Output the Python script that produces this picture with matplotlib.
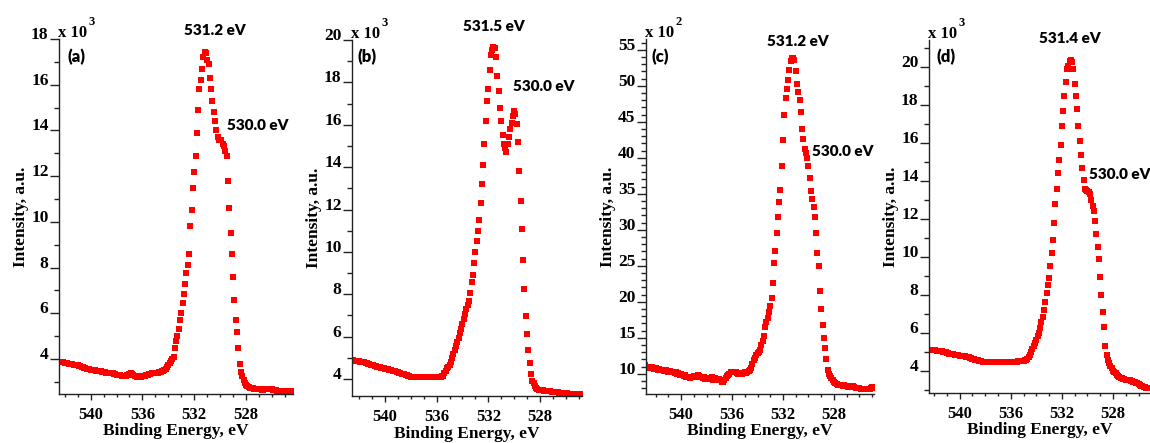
import numpy as np
import matplotlib.pyplot as plt
from matplotlib.ticker import MultipleLocator

plt.rcParams['font.family'] = 'Liberation Serif'
plt.rcParams['font.weight'] = 'bold'

# O 1s spectra, one point every 0.1 eV starting at the given binding energy
STEP = 0.1

start_a = 542.4
intensity_a = [  # x 10^3 counts
    3.88, 3.87, 3.86, 3.85, 3.84, 3.83, 3.81, 3.80, 3.79, 3.78,
    3.77, 3.76, 3.75, 3.74, 3.72, 3.70, 3.68, 3.66, 3.64, 3.62,
    3.60, 3.58, 3.56, 3.55, 3.54, 3.52, 3.51, 3.50, 3.49, 3.48,
    3.48, 3.47, 3.46, 3.45, 3.44, 3.42, 3.41, 3.40, 3.39, 3.38,
    3.38, 3.37, 3.35, 3.33, 3.31, 3.30, 3.29, 3.28, 3.27, 3.27,
    3.26, 3.26, 3.28, 3.32, 3.36, 3.38, 3.35, 3.30, 3.26, 3.24,
    3.23, 3.23, 3.22, 3.23, 3.24, 3.25, 3.27, 3.29, 3.31, 3.33,
    3.35, 3.37, 3.38, 3.38, 3.37, 3.38, 3.40, 3.42, 3.45, 3.47,
    3.49, 3.52, 3.58, 3.65, 3.72, 3.82, 3.92, 4.00, 4.10, 4.50,
    4.80, 5.00, 5.30, 5.70, 6.00, 6.45, 6.85, 7.30, 7.75, 8.10,
    8.60, 9.80, 10.5, 11.5, 12.2, 12.9, 13.9, 14.9, 15.8, 16.2,
    16.7, 17.2, 17.44, 17.4, 17.1, 16.9, 16.3, 15.8, 15.3, 14.8,
    14.4, 14.0, 13.7, 13.6, 13.6, 13.6, 13.4, 13.3, 13.1, 12.9,
    11.8, 10.6, 9.5, 8.6, 7.6, 6.6, 5.7, 5.2, 4.5, 3.8,
    3.45, 3.25, 3.10, 2.95, 2.87, 2.82, 2.78, 2.75, 2.73, 2.72,
    2.71, 2.70, 2.69, 2.68, 2.67, 2.67, 2.66, 2.66, 2.67, 2.70,
    2.71, 2.70, 2.70, 2.69, 2.67, 2.66, 2.64, 2.63, 2.62, 2.62,
    2.61, 2.61, 2.61, 2.60, 2.60, 2.60, 2.60, 2.60, 2.61, 2.60,
]

start_b = 542.5
intensity_b = [  # x 10^3 counts
    4.88, 4.87, 4.86, 4.85, 4.84, 4.83, 4.82, 4.82, 4.81, 4.80,
    4.78, 4.75, 4.72, 4.70, 4.68, 4.66, 4.64, 4.62, 4.60, 4.58,
    4.56, 4.55, 4.53, 4.51, 4.50, 4.49, 4.48, 4.47, 4.45, 4.44,
    4.42, 4.40, 4.38, 4.36, 4.34, 4.32, 4.30, 4.28, 4.26, 4.24,
    4.22, 4.20, 4.18, 4.16, 4.14, 4.12, 4.11, 4.10, 4.09, 4.08,
    4.08, 4.08, 4.09, 4.10, 4.11, 4.11, 4.11, 4.10, 4.10, 4.10,
    4.11, 4.12, 4.12, 4.11, 4.10, 4.10, 4.11, 4.12, 4.12, 4.13,
    4.15, 4.30, 4.40, 4.50, 4.58, 4.68, 4.80, 4.98, 5.18, 5.35,
    5.55, 5.75, 5.95, 6.15, 6.35, 6.60, 6.85, 7.05, 7.30, 7.50,
    7.70, 8.05, 8.60, 8.90, 9.50, 9.99, 10.5, 11.0, 11.5, 12.3,
    13.2, 14.1, 15.1, 16.2, 17.1, 17.7, 18.6, 19.3, 19.55, 19.65,
    19.6, 19.2, 18.3, 17.6, 16.8, 16.2, 15.5, 15.1, 14.9, 14.7,
    15.1, 15.4, 15.8, 16.1, 16.4, 16.65, 16.5, 16.05, 15.2, 13.8,
    12.4, 11.1, 9.63, 8.26, 6.96, 6.13, 5.37, 4.74, 4.24, 3.92,
    3.80, 3.68, 3.60, 3.55, 3.50, 3.48, 3.47, 3.46, 3.45, 3.44,
    3.43, 3.43, 3.42, 3.42, 3.41, 3.40, 3.40, 3.39, 3.38, 3.37,
    3.36, 3.35, 3.34, 3.33, 3.33, 3.32, 3.32, 3.31, 3.31, 3.30,
    3.30, 3.30, 3.29, 3.29, 3.29, 3.29, 3.30, 3.29,
]

start_c = 542.8
intensity_c = [  # x 10^2 counts
    11.2, 10.8, 10.9, 11.0, 10.8, 10.9, 10.8, 10.7, 10.8, 10.7,
    10.6, 10.7, 10.6, 10.5, 10.6, 10.4, 10.5, 10.4, 10.3, 10.4,
    10.3, 10.2, 10.3, 10.1, 10.2, 10.0, 10.1, 9.9, 10.0, 9.8,
    9.7, 9.8, 9.6, 9.5, 9.6, 9.4, 9.6, 9.5, 9.7, 9.6,
    9.7, 9.8, 9.7, 9.5, 9.6, 9.4, 9.5, 9.3, 9.4, 9.3,
    9.4, 9.3, 9.5, 9.2, 9.3, 9.4, 9.2, 9.3, 9.3, 9.1,
    8.9, 8.8, 9.1, 9.4, 9.7, 9.9, 10.0, 10.2, 10.3, 10.2,
    10.3, 10.2, 10.1, 10.0, 10.0, 10.1, 10.0, 10.1, 10.2, 10.1,
    10.2, 10.4, 10.6, 10.8, 11.4, 11.9, 12.2, 12.6, 12.9, 13.1,
    13.3, 14.0, 14.6, 15.3, 16.5, 17.2, 17.8, 18.6, 19.4, 20.5,
    22.6, 25.4, 27.0, 29.5, 31.8, 33.8, 35.5, 38.8, 42.5, 46.0,
    48.3, 49.6, 50.8, 52.2, 53.4, 53.8, 53.9, 53.6, 52.0, 50.2,
    49.2, 48.0, 46.3, 44.0, 42.6, 41.2, 40.6, 40.0, 38.8, 37.2,
    35.4, 34.3, 33.2, 31.8, 29.6, 26.8, 25.0, 21.5, 19.0, 16.8,
    15.0, 13.6, 12.0, 10.5, 10.0, 9.7, 9.4, 9.1, 8.9, 8.7,
    8.6, 8.5, 8.5, 8.4, 8.4, 8.3, 8.4, 8.3, 8.3, 8.2,
    8.3, 8.3, 8.2, 8.3, 8.2, 8.1, 8.1, 8.0, 8.0, 7.9,
    7.9, 7.9, 7.9, 7.9, 7.9, 7.9, 7.9, 8.0, 8.2, 8.1,
]

start_d = 542.4
intensity_d = [  # x 10^3 counts
    5.10, 5.10, 5.09, 5.08, 5.08, 5.07, 5.06, 5.05, 5.04, 5.03,
    5.01, 5.00, 4.98, 4.96, 4.94, 4.92, 4.90, 4.89, 4.88, 4.86,
    4.85, 4.83, 4.81, 4.80, 4.79, 4.78, 4.77, 4.76, 4.75, 4.74,
    4.72, 4.70, 4.68, 4.65, 4.62, 4.60, 4.58, 4.56, 4.54, 4.52,
    4.50, 4.49, 4.48, 4.47, 4.46, 4.46, 4.47, 4.48, 4.47, 4.46,
    4.46, 4.45, 4.46, 4.47, 4.46, 4.45, 4.46, 4.46, 4.47, 4.46,
    4.46, 4.45, 4.46, 4.47, 4.48, 4.47, 4.46, 4.46, 4.47, 4.48,
    4.49, 4.50, 4.50, 4.51, 4.52, 4.54, 4.56, 4.60, 4.70, 4.83,
    5.00, 5.12, 5.30, 5.45, 5.62, 5.82, 6.00, 6.25, 6.55, 6.85,
    7.20, 7.60, 8.10, 8.50, 8.90, 9.50, 10.2, 10.9, 11.8, 12.8,
    13.6, 14.4, 15.1, 15.9, 16.9, 17.7, 18.5, 19.2, 19.9, 20.05,
    20.35, 20.4, 20.3, 19.9, 19.1, 18.5, 17.8, 16.9, 16.1, 15.4,
    14.7, 14.05, 13.6, 13.55, 13.5, 13.4, 13.3, 13.0, 12.7, 12.4,
    11.9, 11.2, 10.5, 9.9, 8.96, 8.0, 7.1, 6.3, 5.3, 4.8,
    4.55, 4.40, 4.25, 4.12, 4.00, 3.92, 3.85, 3.78, 3.72, 3.67,
    3.63, 3.60, 3.57, 3.55, 3.52, 3.51, 3.50, 3.48, 3.46, 3.44,
    3.42, 3.40, 3.37, 3.33, 3.28, 3.24, 3.21, 3.18, 3.15, 3.12,
    3.10, 3.08, 3.07,
]

tags = ['(a)', '(b)', '(c)', '(d)']
exponents = ['3', '3', '2', '3']
main_peaks = ['531.2 eV', '531.5 eV', '531.2 eV', '531.4 eV']
shoulder_peaks = ['530.0 eV', '530.0 eV', '530.0 eV', '530.0 eV']

W, H = 1150, 443
SERIF = dict(family='Liberation Serif', fontweight='bold')
SANS = dict(family='Lato', fontweight='heavy')


def energies(start, values):
    return start - STEP * np.arange(len(values))


def px_rect(left, top, width, height):
    return [left / W, 1 - (top + height) / H, width / W, height / H]


def draw_panel(fig, rect, start, values, xlim, ylim, yticks, tag, exponent,
               main_label, main_pos, shoulder_label, shoulder_pos):
    ax = fig.add_axes(px_rect(*rect))
    ax.plot(energies(start, values), values, 's', color='#ff0000',
            markersize=4.0, markeredgewidth=0)
    ax.set_xlim(*xlim)
    ax.set_ylim(*ylim)
    ax.spines[['top', 'right']].set_visible(False)
    for side in ['left', 'bottom']:
        ax.spines[side].set_linewidth(1.0)
        ax.spines[side].set_color('#222222')

    ax.set_xticks([540, 536, 532, 528])
    ax.xaxis.set_minor_locator(MultipleLocator(1))
    ax.set_yticks(yticks)
    ax.yaxis.set_minor_locator(MultipleLocator(1))
    ax.tick_params(axis='x', which='major', direction='out', length=4.3, width=1,
                   pad=5, labelsize=12, color='#222222')
    ax.tick_params(axis='x', which='minor', direction='out', length=2.2, width=1,
                   color='#222222')
    ax.tick_params(axis='y', which='major', direction='out', length=6.5, width=1,
                   pad=1, labelsize=12.5, color='#222222')
    ax.tick_params(axis='y', which='minor', direction='out', length=3.5, width=1,
                   color='#222222')
    for lb in ax.get_xticklabels():
        lb.set_fontweight('bold')
    for lb in ax.get_yticklabels():
        lb.set_fontweight('bold')
        lb.set_verticalalignment('baseline')

    ax.set_xlabel('Binding Energy, eV', fontsize=12.5, va='top', **SERIF)
    ax.xaxis.set_label_coords(0.5, -0.083)
    ax.set_ylabel('Intensity, a.u.', fontsize=12.5, va='center', **SERIF)
    ax.yaxis.set_label_coords(-38 / rect[2], 0.5)

    # multiplier written above the intensity axis
    ax.annotate('x 10', xy=(0, 1), xycoords='axes fraction', xytext=(-0.5, 1.5),
                textcoords='offset points', ha='left', va='baseline', fontsize=12,
                **SERIF)
    ax.annotate(exponent, xy=(0, 1), xycoords='axes fraction', xytext=(21, 10),
                textcoords='offset points', ha='left', va='baseline', fontsize=9,
                **SERIF)

    ax.text(tag[0], tag[1], tag[2], transform=ax.transAxes, ha='left', va='center',
            fontsize=12, **SANS)
    ax.text(main_pos[0], main_pos[1], main_label, transform=ax.transAxes,
            ha='center', va='center', fontsize=11, clip_on=False, **SANS)
    ax.text(shoulder_pos[0], shoulder_pos[1], shoulder_label, transform=ax.transAxes,
            ha='left', va='center', fontsize=11, clip_on=False, **SANS)
    return ax


fig = plt.figure(figsize=(11.5, 4.43), dpi=100)

draw_panel(fig, (59, 39, 234, 355), start_a, intensity_a, (542.44, 524.38), (2.47, 18.0),
           np.arange(4, 19, 2), (0.038, 0.949, tags[0]), exponents[0],
           main_peaks[0], (0.667, 1.025), shoulder_peaks[0], (0.718, 0.755))
draw_panel(fig, (352, 40, 230, 356), start_b, intensity_b, (542.55, 524.75), (3.2, 20.0),
           np.arange(4, 21, 2), (0.022, 0.952, tags[1]), exponents[1],
           main_peaks[1], (0.617, 1.037), shoulder_peaks[1], (0.70, 0.868))
draw_panel(fig, (646, 39, 228, 355), start_c, intensity_c, (542.75, 524.86), (7.2, 56.5),
           np.arange(10, 56, 5), (0.022, 0.949, tags[2]), exponents[2],
           main_peaks[2], (0.667, 0.992), shoulder_peaks[2], (0.728, 0.682))
draw_panel(fig, (929, 40, 221, 353), start_d, intensity_d, (542.4, 525.1), (2.82, 21.44),
           np.arange(4, 21, 2), (0.032, 0.952, tags[3]), exponents[3],
           main_peaks[3], (0.638, 1.003), shoulder_peaks[3], (0.724, 0.62))

fig.savefig('out.png', dpi=100)
